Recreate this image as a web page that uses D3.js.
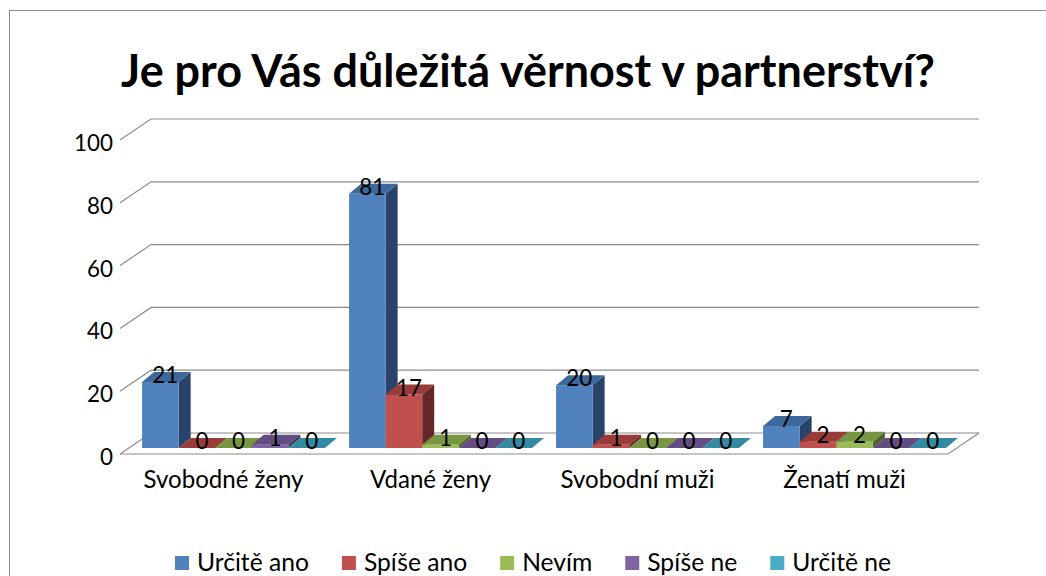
<!DOCTYPE html>
<html><head><meta charset="utf-8">
<script src="https://cdn.jsdelivr.net/npm/d3@7"></script>
<style>body{margin:0;background:#fff}svg{display:block}</style>
</head><body>
<svg id="c" width="1046" height="576"></svg>
<script>
const title = "Je pro Vás důležitá věrnost v partnerství?";
const categories = ["Svobodné ženy", "Vdané ženy", "Svobodní muži", "Ženatí muži"];
const seriesNames = ["Určitě ano", "Spíše ano", "Nevím", "Spíše ne", "Určitě ne"];
const urciteAno = [21, 81, 20, 7];
const spiseAno = [0, 17, 1, 2];
const nevim = [0, 1, 0, 2];
const spiseNe = [1, 0, 0, 0];
const urciteNe = [0, 0, 0, 0];
const yTicks = [0, 20, 40, 60, 80, 100];
const seriesValues = [urciteAno, spiseAno, nevim, spiseNe, urciteNe];

const frontColors = ["#4F81BD", "#C0504D", "#9BBB59", "#8064A2", "#4BACC6"];
const topColors = ["#3D689C", "#983B39", "#789541", "#634C81", "#348BA1"];
const sideColors = ["#28426A", "#64282A", "#4F6228", "#3F3151", "#215968"];

const FONT = "Lato, 'Open Sans', sans-serif";
const svg = d3.select("#c");

function fit(str, target, weight) {
  const t = svg.append("text").attr("font-family", FONT).attr("font-weight", weight || 400)
    .attr("font-size", 100).text(str);
  const w = t.node().getComputedTextLength();
  t.remove();
  return 100 * target / w;
}

// outer border
svg.append("rect").attr("x", 9.5).attr("y", 10.5).attr("width", 1100).attr("height", 700)
  .attr("fill", "none").attr("stroke", "#8e8e8e").attr("stroke-width", 1);

// title
const titleSize = fit(title, 814, 700);
svg.append("text").attr("x", 528).attr("y", 87).attr("text-anchor", "middle")
  .attr("font-family", FONT).attr("font-weight", 700).attr("font-size", titleSize)
  .attr("fill", "#000").text(title);

// scales
const x0 = d3.scaleBand().domain(categories).range([120, 948]);
const x1 = d3.scaleBand().domain(seriesNames).range([0, x0.bandwidth()]).paddingOuter(0.33);
const y = d3.scaleLinear().domain([0, 100]).range([454, 140]);

const DX = 31, DY = 21;          // wall depth
const BSX = 10, BSY = 6;         // bar front plane offset
const BDX = 12, BDY = 10;        // bar depth

const gridColor = "#8c8c8c";
const grid = svg.append("g").attr("fill", "none").attr("stroke", gridColor).attr("stroke-width", 1.2);
yTicks.forEach(t => {
  const yy = y(t);
  grid.append("path").attr("d", `M${x0.range()[0]},${yy}L${x0.range()[0] + DX},${yy - DY}L${x0.range()[1] + DX},${yy - DY}`);
});
// floor front & right edges
grid.append("path").attr("d",
  `M${x0.range()[0]},${y(0)}L${x0.range()[1]},${y(0)}L${x0.range()[1] + DX},${y(0) - DY}`);

// tick labels
const tickSize = fit("100", 39, 400);
svg.append("g").selectAll("text").data(yTicks).join("text")
  .attr("x", 113).attr("y", d => y(d) + 11).attr("text-anchor", "end")
  .attr("font-family", FONT).attr("font-size", tickSize).attr("fill", "#000")
  .text(d => d);

// bars
const bars = svg.append("g");
const labels = [];
const bw = x1.bandwidth();
categories.forEach((c, i) => {
  seriesNames.forEach((s, j) => {
    const v = seriesValues[j][i];
    const xL = x0(c) + x1(s) + BSX, xR = xL + bw;
    const yB = y(0) - BSY, yT = y(v) - BSY;
    const g = bars.append("g");
    if (v > 0) {
      g.append("path").attr("fill", sideColors[j])
        .attr("d", `M${xR},${yB}L${xR + BDX},${yB - BDY}L${xR + BDX},${yT - BDY}L${xR},${yT}Z`);
    }
    g.append("path").attr("fill", topColors[j])
      .attr("d", `M${xL},${yT}L${xR},${yT}L${xR + BDX},${yT - BDY}L${xL + BDX},${yT - BDY}Z`);
    if (v > 0) {
      g.append("rect").attr("fill", frontColors[j])
        .attr("x", xL).attr("y", yT).attr("width", bw).attr("height", yB - yT);
    }
    labels.push({x: xL + bw / 2 + 5, y: yT + 1, v});
  });
});

svg.append("g").selectAll("text").data(labels).join("text")
  .attr("x", d => d.x).attr("y", d => d.y).attr("text-anchor", "middle")
  .attr("font-family", FONT).attr("font-size", tickSize).attr("fill", "#000")
  .text(d => d.v);

// category labels
const catSize = fit("Svobodní muži", 154, 400);
svg.append("g").selectAll("text").data(categories).join("text")
  .attr("x", d => x0(d) + x0.bandwidth() / 2).attr("y", 488).attr("text-anchor", "middle")
  .attr("font-family", FONT).attr("font-size", catSize).attr("fill", "#000")
  .text(d => d);

// legend
const legSize = fit("Určitě ano", 112, 400);
const leg = svg.append("g");
const SQ = 14, GAP1 = 8, GAP2 = 33;
const items = seriesNames.map((s, j) => {
  const t = leg.append("text").attr("font-family", FONT).attr("font-size", legSize)
    .attr("fill", "#000").attr("y", 571).text(s);
  return {t, w: t.node().getComputedTextLength(), j};
});
const total = d3.sum(items, d => SQ + GAP1 + d.w) + GAP2 * (items.length - 1);
let cx = 533 - total / 2;
items.forEach(d => {
  leg.append("rect").attr("x", cx).attr("y", 556).attr("width", SQ).attr("height", SQ)
    .attr("fill", frontColors[d.j]);
  d.t.attr("x", cx + SQ + GAP1);
  cx += SQ + GAP1 + d.w + GAP2;
});
</script>
</body></html>
